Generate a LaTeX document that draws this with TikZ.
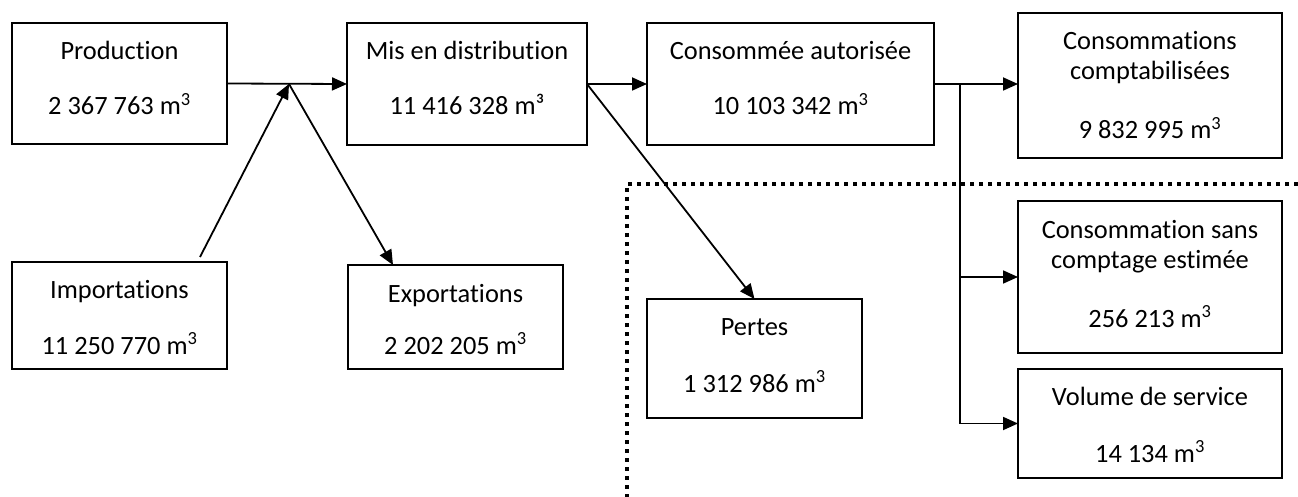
\documentclass[tikz,border=0pt]{standalone}
\usepackage{fontspec}
\setmainfont{Carlito}[Ligatures=NoCommon]
\usetikzlibrary{arrows.meta}
\begin{document}
\begin{tikzpicture}[x=1pt,y=-1pt,
  box/.style={draw, line width=2pt, inner sep=0pt, outer sep=0pt, anchor=north west},
  txt/.style={anchor=base, inner sep=0pt, font=\fontsize{26.4pt}{30pt}\selectfont},
  conn/.style={line width=1.8pt, -{Triangle[length=15pt,width=13pt]}},
  bound/.style={line width=4pt, dash pattern=on 4pt off 5pt}]
\useasboundingbox (0,0) rectangle (1298,497);
% dotted boundary
\draw[bound] (1298,184) -- (627,184) -- (627,497);
% boxes
\node[box, minimum width=215pt, minimum height=121pt] (prod) at (12,23) {};
\node[box, minimum width=240pt, minimum height=122pt] (mis) at (347,23) {};
\node[box, minimum width=287pt, minimum height=122pt] (cons) at (647,23) {};
\node[box, minimum width=264pt, minimum height=145pt] (compt) at (1018,13) {};
\node[box, minimum width=215pt, minimum height=107pt] (imp) at (12,262) {};
\node[box, minimum width=215pt, minimum height=104pt] (exp) at (348,265) {};
\node[box, minimum width=215pt, minimum height=119pt] (pertes) at (647,299) {};
\node[box, minimum width=264pt, minimum height=152pt] (sans) at (1018,201) {};
\node[box, minimum width=264pt, minimum height=109pt] (vol) at (1018,369) {};
% texts
\node[txt] (prodA) at ([yshift=-37pt]prod.north) {Production};
\node[txt] (prodB) at ([yshift=-92pt]prod.north) {2 367 763 m\textsuperscript{3}};
\node[txt] (misA) at ([yshift=-37pt]mis.north) {Mis en distribution};
\node[txt] (misB) at ([yshift=-92pt]mis.north) {11 416 328 m³};
\node[txt] (consA) at ([yshift=-37pt]cons.north) {Consommée autorisée};
\node[txt] (consB) at ([yshift=-92pt]cons.north) {10 103 342 m\textsuperscript{3}};
\node[txt] (comptA) at ([yshift=-37pt]compt.north) {Consommations};
\node[txt] (comptB) at ([yshift=-67pt]compt.north) {comptabilisées};
\node[txt] (comptC) at ([yshift=-126pt]compt.north) {9 832 995 m\textsuperscript{3}};
\node[txt] (impA) at ([yshift=-36pt]imp.north) {Importations};
\node[txt] (impB) at ([yshift=-92pt]imp.north) {11 250 770 m\textsuperscript{3}};
\node[txt] (expA) at ([yshift=-37pt]exp.north) {Exportations};
\node[txt] (expB) at ([yshift=-89pt]exp.north) {2 202 205 m\textsuperscript{3}};
\node[txt] (pertesA) at ([yshift=-36pt]pertes.north) {Pertes};
\node[txt] (pertesB) at ([yshift=-93pt]pertes.north) {1 312 986 m\textsuperscript{3}};
\node[txt] (sansA) at ([yshift=-37pt]sans.north) {Consommation sans};
\node[txt] (sansB) at ([yshift=-67pt]sans.north) {comptage estimée};
\node[txt] (sansC) at ([yshift=-126pt]sans.north) {256 213 m\textsuperscript{3}};
\node[txt] (volA) at ([yshift=-36pt]vol.north) {Volume de service};
\node[txt] (volB) at ([yshift=-93pt]vol.north) {14 134 m\textsuperscript{3}};
% connectors
\coordinate (J1) at (289,84);
\coordinate (impS) at (200,257);
\coordinate (expN) at (393,265);
\coordinate (J2) at (960,84);
\draw[conn] (prod.east) -- (mis.west);
\draw[conn] (impS) -- (J1);
\draw[conn] (J1) -- (expN);
\draw[conn] (mis.east) -- (cons.west);
\draw[conn] (mis.east) -- (pertes.north);
\draw[conn] (cons.east) -- (cons.east -| compt.west);
\draw[conn] (J2) |- (vol.west);
\draw[conn] (J2 |- sans.west) -- (sans.west);
\end{tikzpicture}
\end{document}
